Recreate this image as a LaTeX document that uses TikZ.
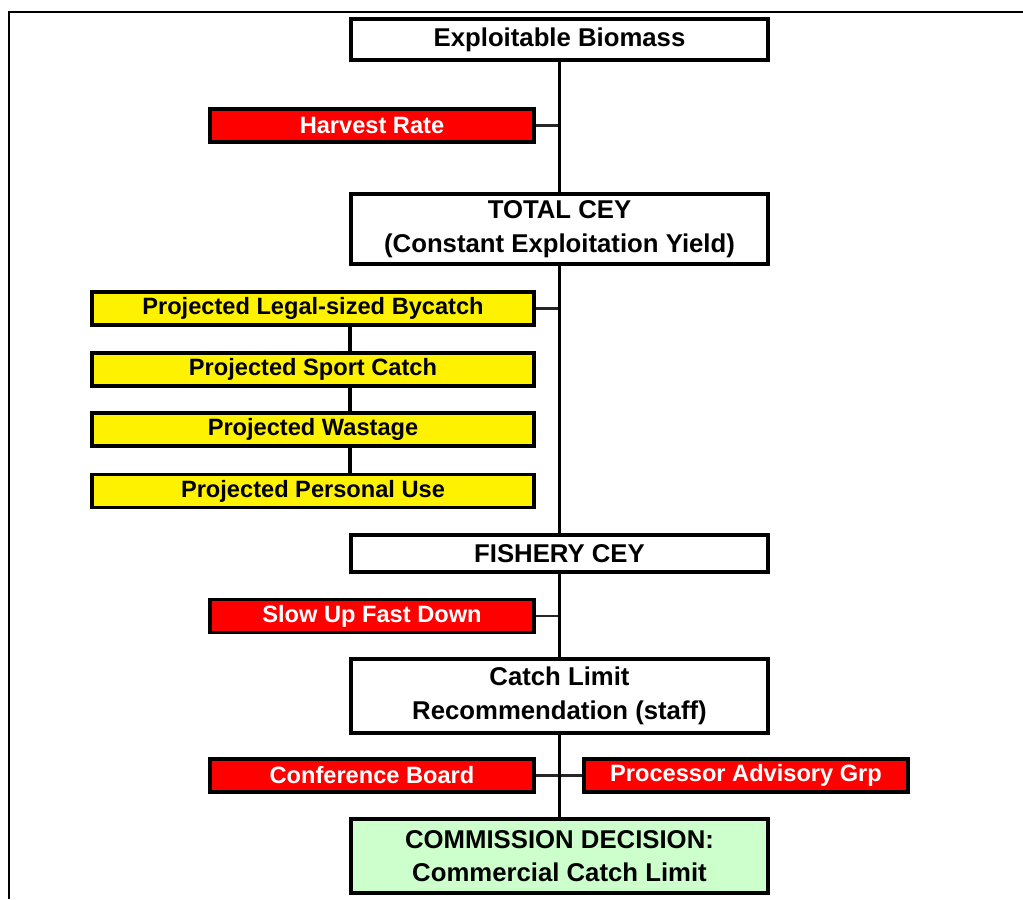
\documentclass[tikz,border=0pt]{standalone}
\usepackage{fontspec}
\setmainfont{Liberation Sans}
\usepackage{tikz}
\usetikzlibrary{calc}

\begin{document}
\begin{tikzpicture}[x=0.025cm, y=-0.025cm]
		\tikzset{box/.style={shape = rectangle, draw, line width = 2.8pt, inner sep = 0pt, align = center,
				font = \bfseries\fontsize{16.8}{23.5}\selectfont}}
		\tikzset{mainbox/.style={box, fill = white, minimum width = 10.425cm,
				font = \bfseries\fontsize{18.3}{23.8}\selectfont}}
		\tikzset{redbox/.style={box, fill = red, text = white, minimum width = 8.1cm, minimum height = 0.825cm}}
		\tikzset{yellowbox/.style={box, fill = yellow, minimum width = 11.05cm, minimum height = 0.825cm}}
		\tikzset{trunk/.style={line width = 2.8pt}}
		\tikzset{branch/.style={line width = 1.6pt, draw = black!85}}
		\useasboundingbox (0, 0) rectangle (1023, 899);
					%frame
					\draw[line width = 1.5pt] (9, 899) -- (9, 12) -- (1023, 12);
					%vertices
					\node[mainbox, minimum height = 1.025cm] (bio) at (559.5, 39.5) {Exploitable Biomass};
					\node[redbox] (harvest) at (372, 125.5) {Harvest Rate};
					\node[mainbox, minimum height = 1.75cm] (total) at (559.5, 229) {TOTAL CEY\\(Constant Exploitation Yield)};
					\node[yellowbox] (bycatch) at (313, 308.5) {Projected Legal-sized Bycatch};
					\node[yellowbox] (sport) at (313, 369.5) {Projected Sport Catch};
					\node[yellowbox] (wastage) at (313, 429.5) {Projected Wastage};
					\node[yellowbox] (personal) at (313, 491) {Projected Personal Use};
					\node[mainbox, minimum height = 0.925cm] (fishery) at (559.5, 553.5) {FISHERY CEY};
					\node[redbox] (slowup) at (372, 616) {Slow Up Fast Down};
					\node[mainbox, minimum height = 1.85cm] (catchlim) at (559.5, 696) {Catch Limit\\Recommendation (staff)};
					\node[redbox] (conf) at (372, 775.5) {Conference Board};
					\node[redbox] (proc) at (746, 775.5) {Processor Advisory Grp};
					\node[mainbox, fill = green!20, minimum height = 1.85cm] (commission) at (559.5, 856) {COMMISSION DECISION:\\Commercial Catch Limit};
					%edges
					\draw[branch] (harvest.east) -- (harvest.east -| bio.south);
					\draw[branch] (bycatch.east) -- (bycatch.east -| total.south);
					\draw[branch] (slowup.east) -- (slowup.east -| fishery.south);
					\draw[branch] (conf.east) -- (proc.west);
					\draw[trunk] ([xshift = 0.925cm]bycatch.south) -- ([xshift = 0.925cm]sport.north);
					\draw[trunk] ([xshift = 0.925cm]sport.south) -- ([xshift = 0.925cm]wastage.north);
					\draw[trunk] ([xshift = 0.925cm]wastage.south) -- ([xshift = 0.925cm]personal.north);
					\draw[trunk] (bio.south) -- (total.north);
					\draw[trunk] (total.south) -- (fishery.north);
					\draw[trunk] (fishery.south) -- (catchlim.north);
					\draw[trunk] (catchlim.south) -- (commission.north);
					
					\end{tikzpicture}
\end{document}
